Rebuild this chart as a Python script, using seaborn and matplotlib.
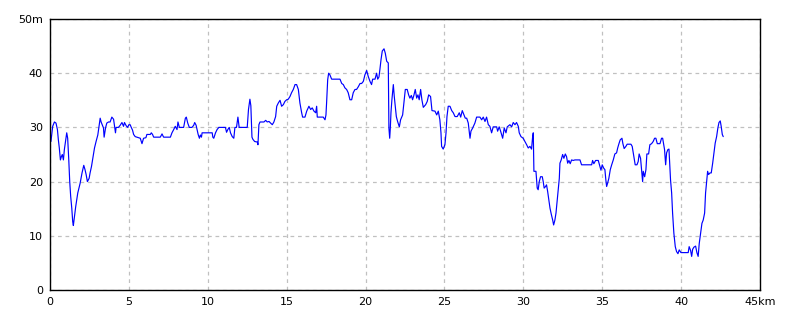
import matplotlib
matplotlib.use("Agg")
import matplotlib.pyplot as plt
import seaborn as sns
import pandas as pd

distance_km = [
    0.00, 0.06, 0.17, 0.28, 0.38, 0.47, 0.53, 0.59, 0.66, 0.72, 0.78, 0.85, 0.91, 0.97,
    1.06, 1.12, 1.19, 1.25, 1.31, 1.38, 1.44, 1.48, 1.55, 1.63, 1.76, 1.91, 2.03, 2.14,
    2.22, 2.29, 2.37, 2.48, 2.54, 2.63, 2.73, 2.82, 2.92, 3.03, 3.09, 3.18, 3.24, 3.31,
    3.39, 3.43, 3.52, 3.60, 3.71, 3.81, 3.92, 4.03, 4.09, 4.15, 4.19, 4.34, 4.45, 4.56,
    4.66, 4.72, 4.83, 4.92, 5.00, 5.08, 5.15, 5.23, 5.30, 5.40, 5.51, 5.72, 5.83, 5.93,
    6.08, 6.14, 6.36, 6.42, 6.50, 6.57, 6.78, 6.99, 7.10, 7.20, 7.63, 7.73, 7.84, 7.94,
    8.05, 8.11, 8.20, 8.37, 8.47, 8.58, 8.64, 8.73, 8.83, 9.00, 9.11, 9.17, 9.26, 9.32,
    9.39, 9.47, 9.53, 9.60, 9.64, 10.17, 10.28, 10.32, 10.38, 10.49, 10.59, 10.70, 11.12,
    11.19, 11.27, 11.36, 11.44, 11.55, 11.65, 11.72, 11.82, 11.91, 11.99, 12.50, 12.58,
    12.67, 12.73, 12.80, 12.86, 12.97, 13.14, 13.18, 13.24, 13.31, 13.56, 13.67, 13.77,
    13.88, 13.98, 14.09, 14.19, 14.30, 14.37, 14.47, 14.58, 14.68, 14.79, 14.89, 15.00,
    15.10, 15.21, 15.31, 15.42, 15.53, 15.63, 15.74, 15.84, 15.95, 16.01, 16.16, 16.27,
    16.41, 16.52, 16.62, 16.73, 16.84, 16.90, 16.94, 17.32, 17.43, 17.49, 17.53, 17.60,
    17.66, 17.74, 17.85, 18.06, 18.38, 18.49, 18.59, 18.69, 18.80, 18.90, 19.01, 19.12,
    19.22, 19.33, 19.43, 19.54, 19.65, 19.75, 19.86, 19.96, 20.07, 20.17, 20.28, 20.38,
    20.45, 20.60, 20.70, 20.77, 20.85, 20.91, 20.98, 21.06, 21.17, 21.25, 21.34, 21.44,
    21.48, 21.53, 21.57, 21.61, 21.67, 21.76, 21.82, 21.88, 21.95, 22.03, 22.14, 22.22,
    22.35, 22.43, 22.52, 22.64, 22.73, 22.81, 22.90, 22.98, 23.07, 23.15, 23.24, 23.32,
    23.40, 23.49, 23.57, 23.66, 23.81, 23.91, 24.00, 24.12, 24.21, 24.40, 24.51, 24.61,
    24.71, 24.78, 24.82, 24.92, 25.03, 25.10, 25.16, 25.24, 25.35, 25.46, 25.56, 25.67,
    25.81, 25.94, 26.03, 26.13, 26.24, 26.32, 26.41, 26.51, 26.62, 26.68, 26.79, 26.93,
    27.04, 27.25, 27.36, 27.46, 27.57, 27.67, 27.78, 27.88, 27.99, 28.09, 28.31, 28.37,
    28.47, 28.56, 28.69, 28.79, 28.90, 28.98, 29.15, 29.26, 29.36, 29.47, 29.57, 29.68,
    29.74, 29.85, 29.99, 30.10, 30.21, 30.31, 30.42, 30.52, 30.59, 30.63, 30.67, 30.80,
    30.88, 30.94, 31.01, 31.09, 31.20, 31.26, 31.32, 31.41, 31.47, 31.54, 31.62, 31.69,
    31.77, 31.86, 31.92, 32.00, 32.07, 32.15, 32.21, 32.28, 32.32, 32.40, 32.49, 32.57,
    32.66, 32.74, 32.81, 32.89, 32.97, 33.06, 33.16, 33.27, 33.59, 33.69, 34.01, 34.33,
    34.39, 34.47, 34.58, 34.75, 34.85, 34.92, 35.00, 35.09, 35.17, 35.23, 35.28, 35.34,
    35.42, 35.51, 35.60, 35.70, 35.80, 35.91, 35.98, 36.06, 36.14, 36.25, 36.31, 36.39,
    36.50, 36.58, 36.82, 36.90, 36.96, 37.03, 37.09, 37.20, 37.28, 37.34, 37.43, 37.50,
    37.56, 37.60, 37.69, 37.77, 37.83, 37.94, 38.02, 38.13, 38.23, 38.32, 38.40, 38.49,
    38.66, 38.76, 38.83, 38.89, 38.95, 39.02, 39.08, 39.16, 39.23, 39.27, 39.33, 39.40,
    39.46, 39.54, 39.63, 39.71, 39.80, 39.88, 39.99, 40.13, 40.45, 40.51, 40.60, 40.67,
    40.73, 40.81, 40.92, 41.00, 41.08, 41.15, 41.24, 41.32, 41.40, 41.49, 41.55, 41.61,
    41.68, 41.74, 41.83, 41.91, 42.00, 42.08, 42.16, 42.25, 42.33, 42.40, 42.48, 42.54,
    42.61, 42.67,
]

elevation_m = [
    29.6, 27.4, 30.2, 31.0, 30.8, 29.6, 27.7, 26.2, 24.0, 24.6, 25.0, 24.0, 25.9, 27.1,
    29.0, 28.0, 24.0, 20.0, 17.3, 15.1, 12.6, 11.9, 13.6, 15.4, 17.9, 19.7, 21.6, 23.0,
    22.2, 21.3, 20.0, 20.6, 21.6, 22.8, 24.6, 26.2, 27.4, 28.6, 29.9, 31.7, 31.0, 30.5,
    29.9, 28.2, 29.9, 30.8, 31.0, 31.0, 31.9, 31.5, 30.2, 29.0, 30.0, 30.0, 30.4, 30.9,
    30.2, 30.9, 30.3, 30.0, 30.5, 30.5, 30.0, 29.5, 28.7, 28.3, 28.2, 28.0, 27.0, 28.0,
    28.1, 28.7, 28.7, 29.0, 28.7, 28.2, 28.2, 28.2, 28.8, 28.2, 28.2, 29.0, 29.6, 30.2,
    29.6, 31.0, 30.0, 30.0, 30.0, 31.7, 31.9, 30.8, 30.0, 30.0, 30.4, 30.9, 30.4, 29.6,
    28.7, 28.0, 28.6, 28.2, 29.0, 29.0, 29.0, 28.2, 28.0, 29.0, 29.6, 30.0, 30.0,
    29.1, 29.6, 30.0, 29.0, 28.3, 28.0, 30.0, 30.0, 31.9, 30.0, 30.0, 33.3,
    35.2, 34.0, 28.2, 27.8, 27.4, 27.3, 26.8, 30.5, 31.0, 31.0, 31.3, 31.0,
    31.1, 30.8, 30.5, 31.0, 32.0, 33.9, 34.5, 35.0, 33.9, 34.2, 34.8, 35.1,
    35.2, 35.7, 36.4, 37.0, 37.9, 37.9, 37.0, 34.5, 32.7, 31.9, 31.9, 33.0,
    33.9, 33.3, 33.6, 33.0, 32.7, 33.9, 31.9, 31.9, 31.4, 32.3, 34.5, 38.8,
    40.0, 39.7, 38.9, 38.9, 38.9, 38.1, 37.9, 37.3, 37.0, 36.4, 35.1, 35.1,
    36.4, 37.0, 37.0, 37.5, 38.1, 38.1, 38.5, 39.7, 40.5, 39.4, 38.5, 37.9,
    38.9, 38.9, 40.0, 38.9, 39.3, 40.7, 42.5, 44.1, 44.5, 43.7, 42.2, 41.9,
    29.9, 28.0, 29.9, 32.7, 35.1, 37.9, 35.7, 33.9, 32.0, 31.1, 30.1, 31.4,
    32.3, 34.5, 37.0, 37.0, 36.0, 35.4, 35.9, 35.1, 36.0, 37.0, 35.4, 36.0,
    35.1, 37.0, 35.1, 33.7, 34.2, 34.8, 36.0, 35.7, 33.1, 33.0, 32.3, 33.0,
    31.4, 29.0, 26.5, 26.0, 26.8, 29.0, 32.0, 33.9, 33.9, 33.1, 32.7, 32.0,
    32.0, 32.7, 31.9, 33.1, 32.3, 31.7, 31.7, 30.8, 28.0, 29.3, 29.9, 30.8,
    31.9, 31.9, 31.4, 31.9, 31.1, 31.9, 30.5, 30.2, 29.0, 30.1, 30.1, 29.3,
    30.1, 29.3, 28.0, 29.9, 29.0, 30.1, 30.5, 30.1, 30.9, 30.5, 30.9, 30.2,
    29.0, 28.3, 28.0, 27.4, 26.8, 26.2, 26.5, 26.0, 28.3, 29.0, 21.9, 21.9,
    18.8, 18.5, 20.0, 20.9, 20.9, 20.0, 18.8, 19.1, 19.4, 18.2, 16.6, 15.1,
    14.0, 12.9, 12.0, 12.9, 14.2, 16.6, 18.5, 20.6, 23.4, 24.0, 25.0, 24.3,
    25.1, 24.6, 23.4, 23.9, 23.3, 24.0, 23.9, 24.0, 24.0, 23.1, 23.1, 23.1,
    23.9, 23.3, 23.9, 23.9, 22.8, 22.1, 23.1, 22.5, 22.2, 20.3, 19.1, 19.7,
    20.6, 22.2, 23.1, 24.0, 25.1, 25.3, 26.2, 27.0, 27.7, 28.0, 27.0, 26.1,
    26.5, 26.9, 26.9, 26.5, 25.4, 24.0, 23.1, 23.1, 23.7, 25.1, 24.3, 21.9,
    20.0, 21.9, 20.9, 22.2, 25.1, 25.1, 26.8, 27.0, 27.4, 28.0, 28.0, 27.0,
    27.0, 28.0, 28.0, 27.0, 25.9, 23.1, 25.3, 25.9, 26.0, 23.7, 20.3, 17.9,
    14.2, 10.5, 8.0, 7.1, 6.7, 7.4, 6.9, 6.9, 6.9, 8.0, 7.3, 6.2,
    7.5, 7.9, 8.1, 6.9, 6.2, 8.6, 10.5, 12.3, 12.9, 14.2, 17.9, 19.7,
    21.9, 21.3, 21.6, 21.6, 23.4, 25.3, 27.1, 28.3, 29.9, 30.9, 31.2, 30.2,
    28.7, 28.3,
]

x_ticks = [0, 5, 10, 15, 20, 25, 30, 35, 40, 45]
x_tick_labels = ["0", "5", "10", "15", "20", "25", "30", "35", "40", "45km"]
y_ticks = [0, 10, 20, 30, 40, 50]
y_tick_labels = ["0", "10", "20", "30", "40", "50m"]

df = pd.DataFrame({"km": distance_km, "m": elevation_m})

sns.set_style("white")
plt.rcParams["font.family"] = ["DejaVu Sans"]

fig = plt.figure(figsize=(8, 3.2), dpi=100)
ax = fig.add_axes([50 / 800, 1 - 290 / 320, 710 / 800, 271 / 320])

sns.lineplot(data=df, x="km", y="m", ax=ax, color="#0000ff", linewidth=0.85,
             sort=False, estimator=None)

ax.set_xlim(0, 45)
ax.set_ylim(0, 50)
ax.set_xticks(x_ticks)
ax.set_xticklabels(x_tick_labels)
ax.set_yticks(y_ticks)
ax.set_yticklabels(y_tick_labels)
ax.set_xlabel("")
ax.set_ylabel("")
ax.grid(True, linestyle=(0, (3, 3)), color="#c0c0c0", linewidth=0.9)
ax.set_axisbelow(True)
ax.tick_params(axis="both", length=0, labelsize=8, colors="black", pad=5)
for s in ax.spines.values():
    s.set_color("black")
    s.set_linewidth(1.0)
    s.set_visible(True)

fig.savefig("out.png", dpi=100, facecolor="white")
